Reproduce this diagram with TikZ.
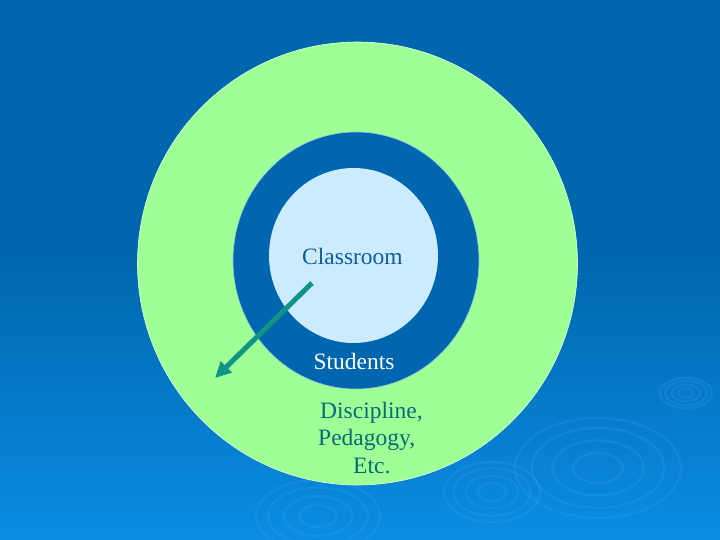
\documentclass[tikz,border=0pt]{standalone}
\usepackage{fontspec}
\setmainfont{Liberation Serif}
\usetikzlibrary{shapes.geometric,arrows.meta}
\definecolor{bgtop}{HTML}{0066AD}
\definecolor{bgbot}{HTML}{0A8CE2}
\definecolor{ripple}{HTML}{3AA4F4}
\definecolor{outergreen}{HTML}{9EFF96}
\definecolor{ringblue}{HTML}{0066B0}
\definecolor{innerblue}{HTML}{CCEBFF}
\definecolor{classtext}{HTML}{0F5E9C}
\definecolor{greentext}{HTML}{0B6A78}
\definecolor{arrowteal}{HTML}{119485}
\begin{document}
\begin{tikzpicture}[x=1pt,y=-1pt,
  disc/.style={ellipse, inner sep=0pt, draw=white!70!outergreen, line width=0.6pt},
  lbl/.style={font=\fontsize{23.5}{27}\selectfont, inner sep=0pt, anchor=base},
  rip/.style={draw=ripple, line width=2.4pt, opacity=0.22}]
\useasboundingbox (0,0) rectangle (720,540);
% background
\fill[bgtop] (0,0) rectangle (720,540);
\fill[top color=bgtop, bottom color=bgbot] (0,250) rectangle (720,540);
% ripples
\foreach \r in {0.3,0.55,0.8,1.0} {
  \draw[rip] (598,468) ellipse ({83*\r} and {50*\r});
  \draw[rip] (686,393) ellipse ({26*\r} and {15*\r});
  \draw[rip] (318,516) ellipse ({62*\r} and {36*\r});
  \draw[rip] (492,492) ellipse ({48*\r} and {30*\r});
}
% circles
\node[disc, fill=outergreen, minimum width=440pt, minimum height=443pt] (outer) at (357.5,263.5) {};
\node[disc, fill=ringblue, draw=white!60!ringblue, minimum width=246pt, minimum height=257pt] (ring) at (356,260.5) {};
\node[disc, fill=innerblue, draw=none, minimum width=169pt, minimum height=175pt] (inner) at (353.5,255.5) {};
% labels
\node[lbl, text=classtext] (classroom) at (352.5,264) {Classroom};
\node[lbl, text=white] (students) at (354,369) {Students};
\node[lbl, text=greentext, anchor=base west] (disc1) at (320,418) {Discipline,};
\node[lbl, text=greentext, anchor=base west] (disc2) at (318,445) {Pedagogy,};
\node[lbl, text=greentext, anchor=base west] (disc3) at (353,473) {Etc.};
% arrow
\coordinate (astart) at (312,283);
\coordinate (aend) at (215,378);
\draw[arrowteal, line width=5pt, -{Triangle[length=16pt,width=15pt]}] (astart) -- (aend);
\end{tikzpicture}
\end{document}
